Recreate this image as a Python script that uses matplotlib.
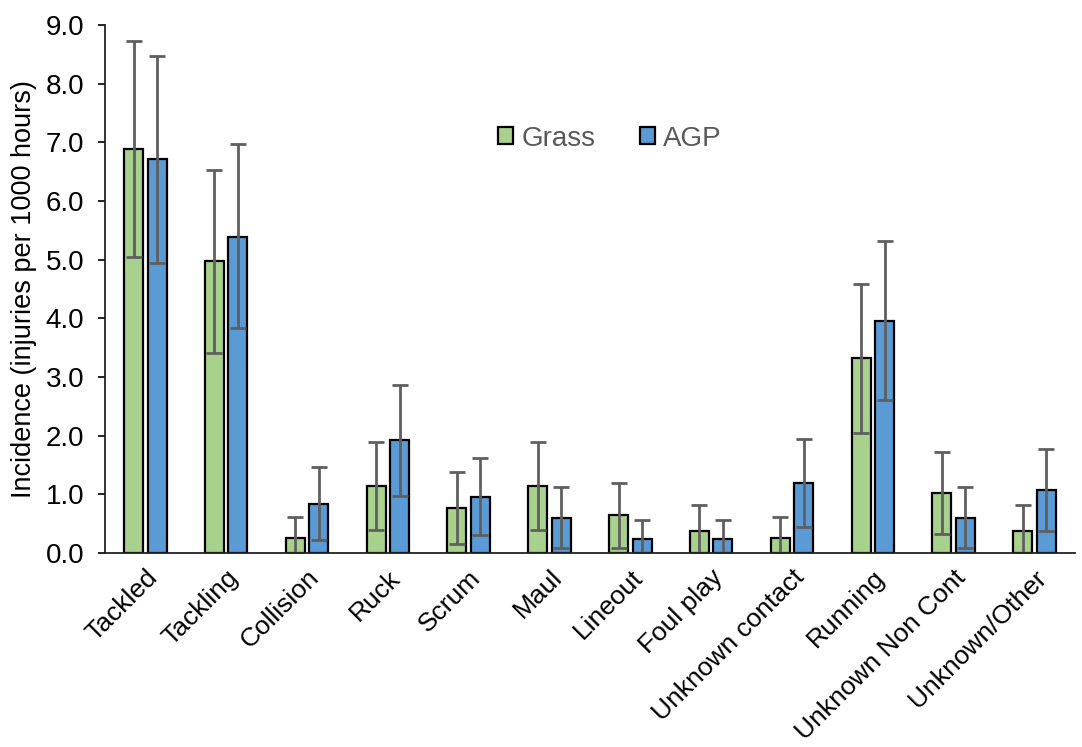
import matplotlib
matplotlib.use("Agg")
import matplotlib.pyplot as plt
import numpy as np

plt.rcParams['font.family'] = ['Liberation Sans', 'DejaVu Sans']

categories = ["Tackled", "Tackling", "Collision", "Ruck", "Scrum", "Maul", "Lineout",
              "Foul play", "Unknown contact", "Running", "Unknown Non Cont", "Unknown/Other"]
grass = [6.88, 4.98, 0.26, 1.15, 0.77, 1.15, 0.64, 0.38, 0.26, 3.32, 1.03, 0.38]
grass_lo = [5.05, 3.41, 0.00, 0.40, 0.16, 0.40, 0.08, 0.00, 0.00, 2.04, 0.32, 0.00]
grass_hi = [8.72, 6.53, 0.61, 1.90, 1.38, 1.90, 1.20, 0.82, 0.61, 4.59, 1.73, 0.82]
agp = [6.71, 5.39, 0.84, 1.92, 0.96, 0.60, 0.24, 0.24, 1.20, 3.96, 0.60, 1.08]
agp_lo = [4.95, 3.83, 0.22, 0.98, 0.30, 0.08, 0.00, 0.00, 0.45, 2.61, 0.08, 0.38]
agp_hi = [8.47, 6.97, 1.46, 2.86, 1.62, 1.12, 0.57, 0.57, 1.94, 5.31, 1.12, 1.78]
yticks = [0, 1, 2, 3, 4, 5, 6, 7, 8, 9]

fig = plt.figure(figsize=(10.82, 7.47), dpi=100)
ax = fig.add_axes([0.097, 0.2597, 0.8965, 0.7068])

x = np.arange(len(categories))
w = 0.235
off = 0.145
g = np.array(grass); a = np.array(agp)
gerr = [g - np.array(grass_lo), np.array(grass_hi) - g]
aerr = [a - np.array(agp_lo), np.array(agp_hi) - a]

ekw = dict(ecolor='#5f5f5f', elinewidth=2.0, capsize=5.5, capthick=2.0)
ax.bar(x - off, g, w, color='#A9D18E', edgecolor='black', linewidth=1.6,
       yerr=gerr, error_kw=ekw, label='Grass', zorder=2)
ax.bar(x + off, a, w, color='#5B9BD5', edgecolor='black', linewidth=1.6,
       yerr=aerr, error_kw=ekw, label='AGP', zorder=2)

ax.set_xlim(-0.5, len(categories) - 0.5)
ax.set_ylim(0, 9)
ax.set_yticks(yticks)
ax.set_yticklabels([f"{v:.1f}" for v in yticks], fontsize=20)
ax.set_xticks(x)
ax.set_xticklabels(categories, rotation=45, ha='right', rotation_mode='anchor', fontsize=19)
ax.tick_params(axis='x', length=0, pad=9)
ax.tick_params(axis='y', length=5, width=1.2, pad=10, direction='out')
for s in ['top', 'right']:
    ax.spines[s].set_visible(False)
for s in ['left', 'bottom']:
    ax.spines[s].set_linewidth(1.3)
    ax.spines[s].set_color('#222222')

ax.set_ylabel("Incidence (injuries per 1000 hours)", fontsize=19.5, labelpad=6)

leg = ax.legend(loc='center left', bbox_to_anchor=(0.379, 0.785), ncol=2, frameon=False,
                fontsize=20, handlelength=0.55, handleheight=0.55, handletextpad=0.3,
                columnspacing=1.6)
for t in leg.get_texts():
    t.set_color('#595959')

fig.savefig("out.png", dpi=100)
